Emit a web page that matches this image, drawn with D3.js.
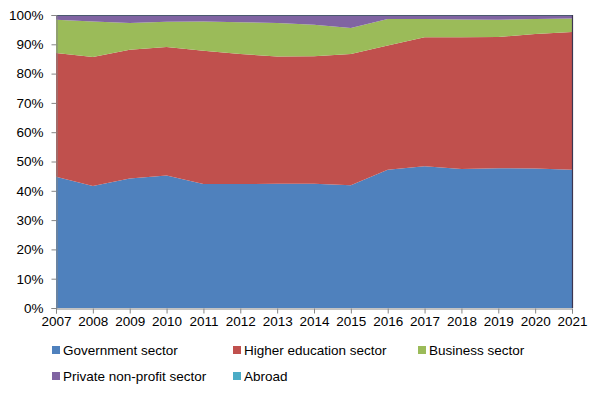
<!DOCTYPE html>
<html><head><meta charset="utf-8">
<script src="https://cdn.jsdelivr.net/npm/d3@7"></script>
<style>
html,body{margin:0;padding:0;background:#fff;}
text{font-family:"Liberation Sans",Arial,sans-serif;fill:#000;}
</style></head>
<body><svg id="c" width="602" height="397"></svg>
<script>
const years = [2007,2008,2009,2010,2011,2012,2013,2014,2015,2016,2017,2018,2019,2020,2021];
const seriesNames = ["Government sector","Higher education sector","Business sector","Private non-profit sector","Abroad"];
const government = [44.8,41.6,44.2,45.2,42.3,42.3,42.4,42.4,41.9,47.2,48.4,47.4,47.7,47.6,47.2];
const higherEducation = [42.2,44.1,43.9,43.9,45.5,44.4,43.4,43.5,44.8,42.4,44.0,45.0,44.8,45.9,47.0];
const business = [11.4,12.1,9.2,8.6,10.0,10.8,11.5,10.8,8.9,9.0,6.2,6.1,5.9,5.1,4.6];
const privateNonProfit = [1.4,2.0,2.5,2.1,2.0,2.3,2.5,3.1,4.2,1.2,1.2,1.3,1.4,1.2,1.0];
const abroad = [0.2,0.2,0.2,0.2,0.2,0.2,0.2,0.2,0.2,0.2,0.2,0.2,0.2,0.2,0.2];
const yTicks = [0,10,20,30,40,50,60,70,80,90,100];
const colors = ["#4F81BD","#C0504D","#9BBB59","#8064A2","#4BACC6"];

const rows = years.map((y,i)=>({year:y,
  "Government sector":government[i],
  "Higher education sector":higherEducation[i],
  "Business sector":business[i],
  "Private non-profit sector":privateNonProfit[i],
  "Abroad":abroad[i]}));

const svg = d3.select("#c");
const L=56,R=572,T=15,B=308;
const x = d3.scaleLinear().domain([years[0],years[years.length-1]]).range([L,R]);
const y = d3.scaleLinear().domain([0,100]).range([B,T]);

const stack = d3.stack().keys(seriesNames).offset(d3.stackOffsetExpand);
const layers = stack(rows);
const yp = d3.scaleLinear().domain([0,1]).range([B,T]);
const area = d3.area().x(d=>x(d.data.year)).y0(d=>yp(d[0])).y1(d=>yp(d[1]));

svg.append("g").selectAll("path").data(layers).join("path")
  .attr("d",area).attr("fill",(d,i)=>colors[i]);

// top and right border of plot
svg.append("line").attr("x1",L).attr("x2",R+0.5).attr("y1",T+0.5).attr("y2",T+0.5)
  .attr("stroke","#4a5a6e").attr("stroke-width",1);
svg.append("line").attr("x1",R+0.5).attr("x2",R+0.5).attr("y1",T).attr("y2",B)
  .attr("stroke","#3c3550").attr("stroke-width",1.2);

// y axis
const yAxis = d3.axisLeft(y).tickValues(yTicks).tickFormat(d=>d+"%").tickSize(5).tickPadding(8);
const gy = svg.append("g").attr("transform",`translate(${L+0.5},0)`).call(yAxis);
gy.select(".domain").attr("stroke","#868686");
gy.selectAll(".tick line").attr("stroke","#868686");
gy.selectAll("text").attr("font-size","13.5px").attr("font-family","Liberation Sans, Arial, sans-serif").attr("fill","#000");

// x axis
const xAxis = d3.axisBottom(x).tickValues(years).tickFormat(d3.format("d")).tickSize(5).tickPadding(3);
const gx = svg.append("g").attr("transform",`translate(0,${B+0.5})`).call(xAxis);
gx.select(".domain").attr("stroke","#868686");
gx.selectAll(".tick line").attr("stroke","#868686");
gx.selectAll("text").attr("font-size","13.5px").attr("font-family","Liberation Sans, Arial, sans-serif").attr("fill","#000");

// legend
const legPos = [[52,350],[233,350],[418,350],[52,376],[233,376]];
const lg = svg.append("g");
seriesNames.forEach((n,i)=>{
  const [lx,ly]=legPos[i];
  lg.append("rect").attr("x",lx).attr("y",ly-4).attr("width",8).attr("height",8).attr("fill",colors[i]);
  lg.append("text").attr("x",lx+11).attr("y",ly).attr("dy","0.35em").attr("font-size","13.5px").text(n);
});
</script></body></html>
